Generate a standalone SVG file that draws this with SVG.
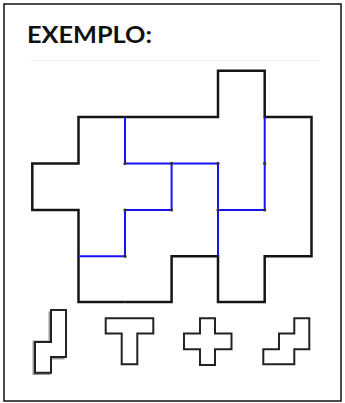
<svg xmlns="http://www.w3.org/2000/svg" width="345" height="403" viewBox="0 0 345 403">
<style>
.frame{fill:#fff;stroke:#111;stroke-width:1.5}
.title{font-family:Lato,"Liberation Sans",sans-serif;font-weight:bold;font-size:22px;fill:#111}
.outline{fill:none;stroke:#151515;stroke-width:2.5;stroke-linejoin:miter}
.cut{fill:none;stroke:#1414f0;stroke-width:2;stroke-linecap:butt}
.dot{fill:#333}
.piece{fill:#fff;stroke:#222;stroke-width:2}
.shadow{fill:none;stroke:#999;stroke-width:2}
</style>
<rect class="frame" x="4" y="4" width="337" height="397"/>
<text class="title" x="27" y="43" textLength="125" lengthAdjust="spacingAndGlyphs">EXEMPLO:</text>
<line x1="30" y1="60.5" x2="320" y2="60.5" stroke="#f0f0f0" stroke-width="1"/>
<g id="board">
<path class="outline" d="M78.5,117 H218 V70.7 H264.7 V117 H311.5 V256.3 H264.7 V302 H218 V256.3 H171.6 V302 H78.5 V210 H32.3 V163.4 H78.5 Z"/>
</g>
<g id="cuts">
<path class="cut" d="M125,117 V163.4 H218 M171.6,163.4 V210 H125 V256.3 H78.5 M218,163.4 V256.3 M218,210 H264.7 V117"/>
<g class="dot">
<circle cx="125" cy="163.4" r="1.6"/><circle cx="171.6" cy="163.4" r="1.6"/><circle cx="218" cy="163.4" r="1.6"/><circle cx="264.7" cy="163.4" r="1.6"/>
<circle cx="125" cy="210" r="1.6"/><circle cx="171.6" cy="210" r="1.6"/><circle cx="218" cy="210" r="1.6"/><circle cx="264.7" cy="210" r="1.6"/>
<circle cx="125" cy="256.3" r="1.6"/><circle cx="125" cy="302" r="1"/>
</g>
</g>
<g id="piece-n">
<path class="shadow" d="M49.5,311.5 V341.5 H33.5 V374 H49.5 V358.5 H64.5" transform="translate(0,0)"/>
<path class="piece" d="M51,310 H66 V357 H51 V372.7 H35 V342 H51 Z"/>
</g>
<g id="piece-t">
<path class="piece" d="M105.7,318.3 H153.3 V333.5 H137.3 V364.3 H121.7 V333.5 H105.7 Z"/>
</g>
<g id="piece-plus">
<path class="piece" d="M200,318.3 H215 V333.5 H231.5 V349.3 H215 V365 H200 V349.3 H184 V333.5 H200 Z"/>
</g>
<g id="piece-w">
<path class="piece" d="M294.3,318.3 H309.3 V349.3 H294.3 V364.3 H263.3 V349.3 H279 V333.5 H294.3 Z"/>
</g>
</svg>
